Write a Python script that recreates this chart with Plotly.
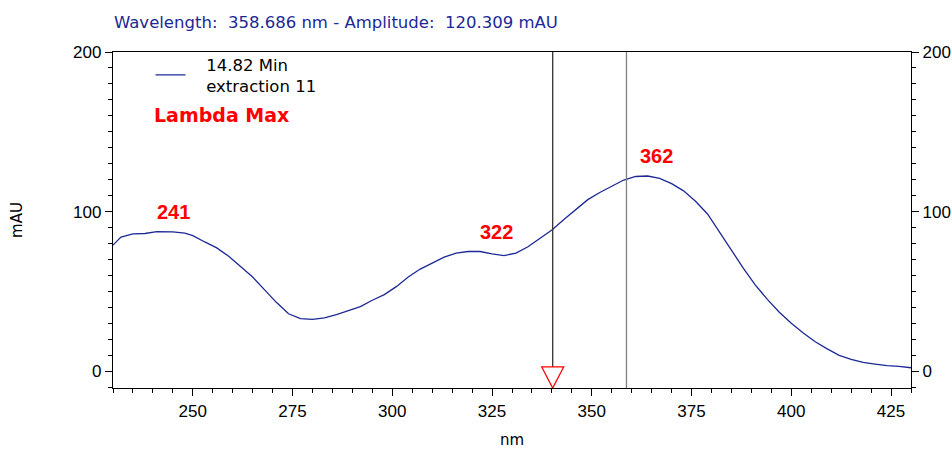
import numpy as np
import plotly.graph_objects as go

# ---- data ----
wavelength = [230, 232, 235, 238, 241, 245, 248, 250, 253, 256, 259, 262, 265, 268,
              271, 274, 277, 280, 283, 286, 289, 292, 295, 298, 301, 304, 307, 310,
              313, 316, 319, 322, 325, 328, 331, 334, 337, 340, 343, 346, 349, 352,
              355, 358, 361, 364, 367, 370, 373, 376, 379, 382, 385, 388, 391, 394,
              397, 400, 403, 406, 409, 412, 415, 418, 421, 424, 427, 430]
amplitude = [79, 84, 86, 86.3, 87.5, 87.3, 86.5, 85, 81, 77.3, 72, 65.5, 59, 51,
             43, 36, 33, 32.5, 33.5, 35.5, 38, 40.5, 44.5, 48, 53, 59, 64, 68,
             71.5, 74, 75, 75, 73.5, 72.5, 74, 78, 83.5, 88.5, 95, 101.5, 107.5, 112,
             116, 119.8, 122, 122.3, 120.8, 117.5, 113, 106.5, 98.5, 87, 76, 64.5, 54, 45,
             37, 30, 24, 18.5, 14, 10, 7.5, 5.5, 4.5, 3.5, 3, 2.2]
peak_nm = [241, 322, 362]
peak_labels = ["241", "322", "362"]
cursor_nm = 340.2          # arrow cursor
crosshair_nm = 358.686     # reported wavelength
crosshair_amp = 120.309
trace_lines = ["14.82 Min", "extraction 11"]
x_ticks = [250, 275, 300, 325, 350, 375, 400, 425]
y_ticks = [0, 100, 200]

X_RANGE = [230, 430]
Y_RANGE = [-10.5, 200]

NAVY = "#1c2896"
WIDE = "DejaVu Sans, sans-serif"
NARROW = "Liberation Sans, Arial, sans-serif"

pad = "\u00a0\u00a0\u00a0"
trace_name = "<br>".join(pad + s for s in trace_lines)

fig = go.Figure()
fig.add_trace(go.Scatter(x=wavelength, y=amplitude, mode="lines", name=trace_name,
                         line=dict(color=NAVY, width=1.3), showlegend=True))

# helper trace for the right axis (invisible)
fig.add_trace(go.Scatter(x=[X_RANGE[0]], y=[0], yaxis="y2", mode="markers",
                         marker=dict(opacity=0), showlegend=False, hoverinfo="skip"))

# vertical cursor lines
fig.add_shape(type="line", xref="x", yref="y", x0=crosshair_nm, x1=crosshair_nm,
              y0=Y_RANGE[0], y1=Y_RANGE[1], line=dict(color="#808080", width=1.3))
tri_h = 13.2
fig.add_shape(type="line", xref="x", yref="y", x0=cursor_nm, x1=cursor_nm,
              y0=Y_RANGE[0] + tri_h, y1=Y_RANGE[1], line=dict(color="#333333", width=1.3))
half_w = 2.75
fig.add_shape(type="path", xref="x", yref="y",
              path=f"M {cursor_nm - half_w},{Y_RANGE[0] + tri_h} L {cursor_nm + half_w},{Y_RANGE[0] + tri_h} "
                   f"L {cursor_nm},{Y_RANGE[0]} Z",
              line=dict(color="#ff0000", width=1.3), fillcolor="rgba(0,0,0,0)")

# peak labels
peak_amp = np.interp(peak_nm, wavelength, amplitude)
for nm, amp, lab in zip(peak_nm, peak_amp, peak_labels):
    fig.add_annotation(x=nm, y=amp, xref="x", yref="y", text=f"<b>{lab}</b>",
                       showarrow=False, xanchor="left", yanchor="middle", yshift=20, xshift=-2,
                       font=dict(family=NARROW, size=20, color="#ff0000"))

fig.add_annotation(xref="paper", yref="paper", x=0, y=1, xanchor="left", yanchor="middle",
                   xshift=39, yshift=-63, text="<b>Lambda Max</b>", showarrow=False,
                   font=dict(family=WIDE, size=19, color="#ff0000"))

fig.add_annotation(xref="paper", yref="paper", x=0, y=1, xanchor="left", yanchor="middle",
                   xshift=-1, yshift=30, showarrow=False,
                   text=f"Wavelength:\u00a0 {crosshair_nm:.3f} nm - Amplitude:\u00a0 {crosshair_amp:.3f} mAU",
                   font=dict(family=WIDE, size=16.5, color=NAVY))

axis_common = dict(showgrid=False, zeroline=False, showline=True, linecolor="#000000",
                   linewidth=1.3, ticks="outside", ticklen=7, tickcolor="#000000",
                   tickwidth=1.3, automargin=False,
                   tickfont=dict(family=NARROW, size=17, color="#000000"))

fig.update_layout(
    width=952, height=449,
    margin=dict(l=113, r=41, t=52, b=61),
    paper_bgcolor="white", plot_bgcolor="white",
    font=dict(family=WIDE, size=15, color="#000000"),
    showlegend=True,
    legend=dict(x=0.047, y=1.015, xref="paper", yref="paper", xanchor="left", yanchor="top",
                bgcolor="rgba(0,0,0,0)", borderwidth=0, itemwidth=30,
                font=dict(family=WIDE, size=16.5, color="#000000"), tracegroupgap=0),
    xaxis=dict(range=X_RANGE, tickvals=x_ticks, mirror=True,
               minor=dict(dtick=5, tick0=230, ticklen=4, ticks="outside", tickcolor="#000000"),
               title=dict(text="nm", standoff=16, font=dict(family=WIDE, size=15)),
               **axis_common),
    yaxis=dict(range=Y_RANGE, tickvals=y_ticks,
               minor=dict(dtick=10, tick0=0, ticklen=4, ticks="outside", tickcolor="#000000"),
               title=dict(text="mAU", standoff=46, font=dict(family=WIDE, size=15)),
               **axis_common),
    yaxis2=dict(range=Y_RANGE, tickvals=y_ticks, overlaying="y", side="right",
                minor=dict(dtick=10, tick0=0, ticklen=4, ticks="outside", tickcolor="#000000"),
                **axis_common),
)

fig.write_html("out.html")
